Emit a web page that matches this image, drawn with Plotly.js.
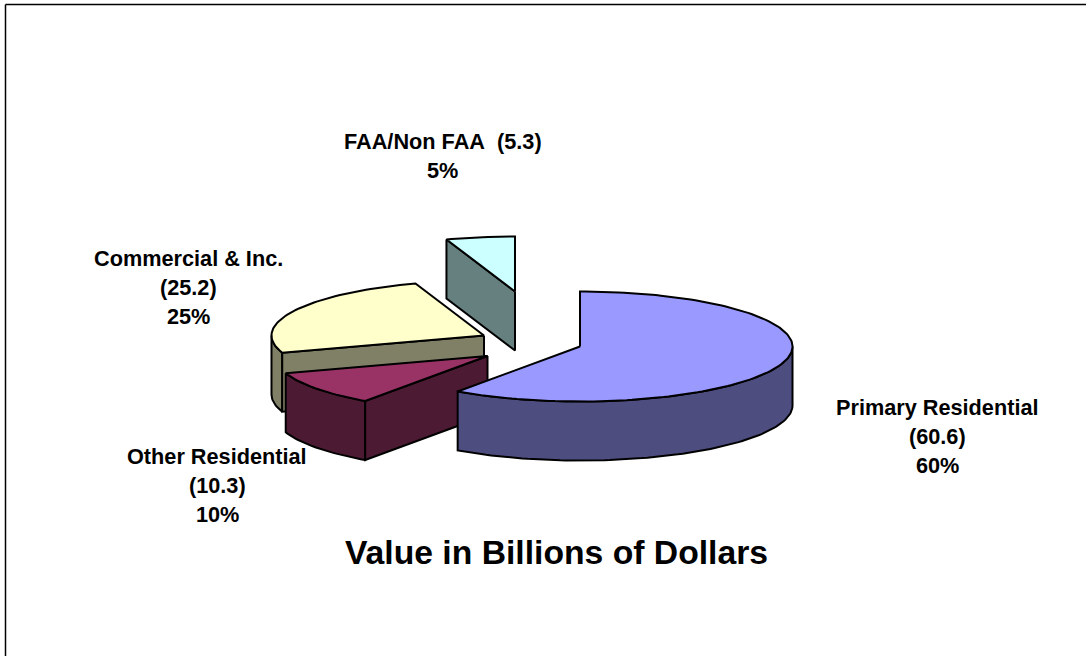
<!DOCTYPE html>
<html>
<head>
<meta charset="utf-8">
<script src="https://cdn.plot.ly/plotly-3.0.1.min.js"></script>
<style>html,body{margin:0;padding:0;background:#fff}#chart{width:1086px;height:656px}</style>
</head>
<body>
<div id="chart"></div>
<script>
// Data
const categories = ["Primary Residential", "Other Residential", "Commercial & Inc.", "FAA/Non FAA"];
const values = [60.6, 10.3, 25.2, 5.3];
const percents = ["60%", "10%", "25%", "5%"];
const chartTitle = "Value in Billions of Dollars";

// Styles
const topColors = ["#9999FF", "#993366", "#FFFFCC", "#CCFFFF"];
const sideColors = ["#4D4D80", "#4D1A33", "#808066", "#668080"];

// Pie geometry, in axis units (the axes span the 1086x656 page)
const rx = 212.5, ry = 55, depth = 59;
const centres = [[580, 346.5], [487.5, 356], [484, 335.5], [515, 291.5]];
const FONT = "Liberation Sans, Arial, sans-serif";
const labelSize = 21.7;

const total = values.reduce((a, b) => a + b, 0);
const rad = d => d * Math.PI / 180;
const px = (c, t) => c[0] + rx * Math.sin(rad(t));
const py = (c, t, z) => c[1] - ry * Math.cos(rad(t)) + (z || 0);

function arc(c, a, b, z) {
  const n = Math.max(2, Math.ceil(Math.abs(b - a) / 1.5));
  const xs = [], ys = [];
  for (let i = 0; i <= n; i++) {
    const t = a + (b - a) * i / n;
    xs.push(px(c, t)); ys.push(py(c, t, z));
  }
  return [xs, ys];
}
function poly(xs, ys, fill) {
  return {
    type: "scatter", mode: "lines", x: xs, y: ys, fill: "toself", fillcolor: fill,
    line: {color: "#000", width: 2, shape: "linear"}, hoverinfo: "skip", showlegend: false
  };
}

const spans = [];
let acc = 0;
values.forEach(v => { const s = acc / total * 360; acc += v; spans.push([s, acc / total * 360]); });

function sliceTraces(i) {
  const c = centres[i], s = spans[i][0], e = spans[i][1], out = [];
  // outer wall: only the front half of the ellipse faces the viewer
  const a = Math.max(s, 90), b = Math.min(e, 270);
  if (b > a) {
    const t = arc(c, a, b, 0), u = arc(c, b, a, depth);
    out.push(poly(t[0].concat(u[0], [t[0][0]]), t[1].concat(u[1], [t[1][0]]), sideColors[i]));
  }
  // cut faces that turn toward the viewer
  const faceTowards = [];
  if (s > 180 && s < 360) faceTowards.push(s);
  if (e > 0 && e < 180) faceTowards.push(e);
  faceTowards.forEach(t => {
    const rimX = px(c, t), rimY = py(c, t, 0);
    out.push(poly([c[0], rimX, rimX, c[0], c[0]], [c[1], rimY, rimY + depth, c[1] + depth, c[1]], sideColors[i]));
  });
  // top face
  const t = arc(c, s, e, 0);
  out.push(poly([c[0]].concat(t[0], [c[0]]), [c[1]].concat(t[1], [c[1]]), topColors[i]));
  return out;
}

// Painted back to front
const traces = [].concat(sliceTraces(3), sliceTraces(2), sliceTraces(1), sliceTraces(0));

// Label lines, centred on each label's own position
const labelLines = [
  [categories[0], "(" + values[0] + ")", percents[0]],
  [categories[1], "(" + values[1] + ")", percents[1]],
  [categories[2], "(" + values[2] + ")", percents[2]],
  [categories[3] + "\u00a0 (" + values[3] + ")", percents[3]]
];
const labelPos = [[937.5, 407.5], [217, 456], [188, 258.5], [442.5, 141.5]];
const lineGap = 29;
const annotations = [];
labelLines.forEach((lines, i) => lines.forEach((text, j) => annotations.push({
  x: labelPos[i][0], y: labelPos[i][1] + j * lineGap, xref: "x", yref: "y",
  text: "<b>" + text + "</b>", showarrow: false, xanchor: "center", yanchor: "middle",
  font: {family: FONT, size: labelSize, color: "#000"}
})));

const hidden = {visible: false, fixedrange: true};
const layout = {
  width: 1086, height: 656, margin: {l: 0, r: 0, t: 0, b: 0},
  paper_bgcolor: "#fff", plot_bgcolor: "#fff", showlegend: false,
  title: {text: "<b>" + chartTitle + "</b>", x: 556.5 / 1086, xanchor: "center",
          y: 1 - 552.5 / 656, yanchor: "middle", font: {family: FONT, size: 33.7, color: "#000"}},
  xaxis: Object.assign({}, hidden, {range: [0, 1086]}),
  yaxis: Object.assign({}, hidden, {range: [656, 0]}),
  annotations: annotations,
  shapes: [
    {type: "line", xref: "paper", yref: "paper", x0: 5.5 / 1086, x1: 1, y0: 1 - 4.5 / 656, y1: 1 - 4.5 / 656, line: {color: "#000", width: 1.5}},
    {type: "line", xref: "paper", yref: "paper", x0: 5.5 / 1086, x1: 5.5 / 1086, y0: 1 - 4.5 / 656, y1: 0, line: {color: "#000", width: 1.5}}
  ]
};
Plotly.newPlot("chart", traces, layout, {staticPlot: true, displayModeBar: false});
</script>
</body>
</html>
